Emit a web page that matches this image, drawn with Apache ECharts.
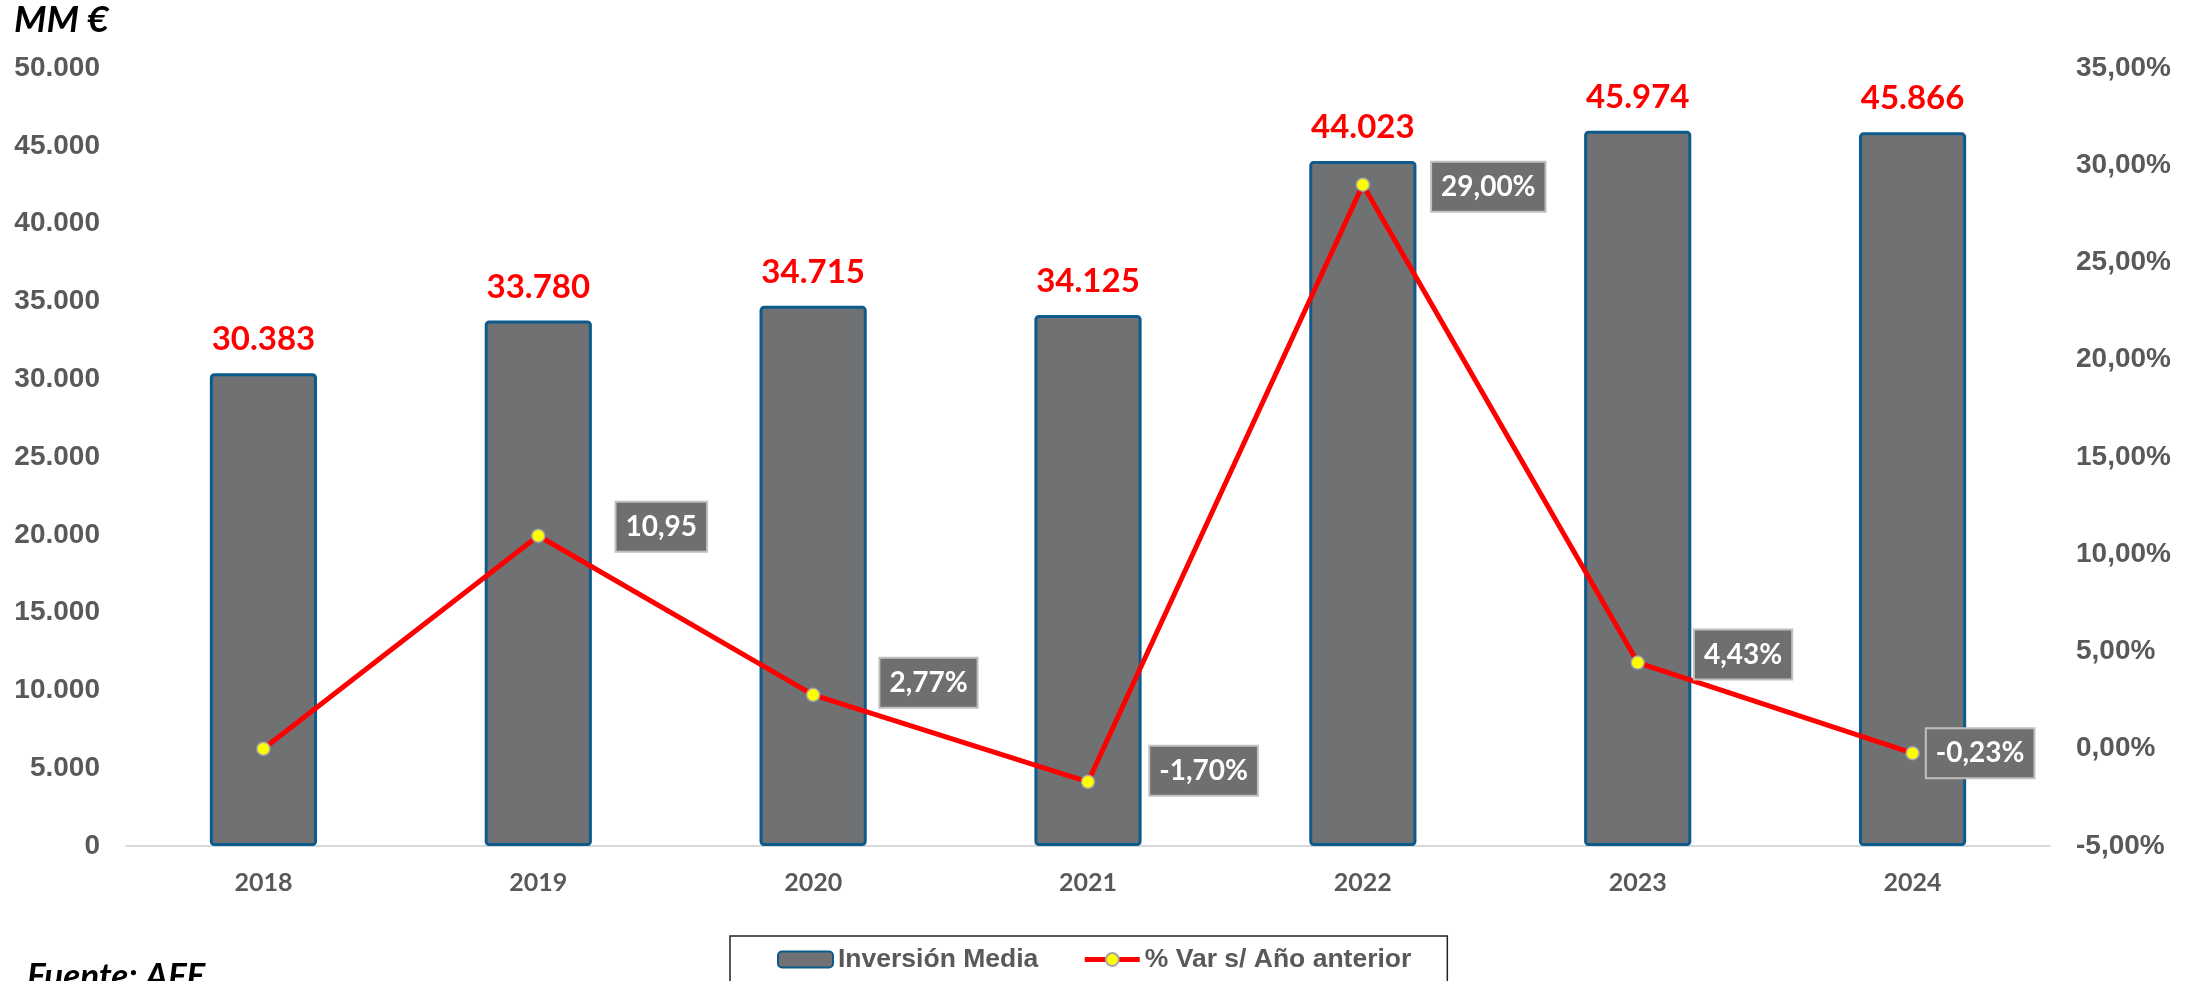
<!DOCTYPE html>
<html>
<head>
<meta charset="utf-8">
<script src="https://cdn.jsdelivr.net/npm/echarts@6/dist/echarts.min.js"></script>
<style>
  html, body { margin: 0; padding: 0; background: #fff; }
  #chart { width: 2196px; height: 981px; }
</style>
</head>
<body>
<div id="chart"></div>
<script>
// datos
var years = ['2018', '2019', '2020', '2021', '2022', '2023', '2024'];
var inversion = [30383, 33780, 34715, 34125, 44023, 45974, 45866];
var variacion = [0, 10.95, 2.77, -1.70, 29.00, 4.43, -0.23];
var varLabels = ['', '10,95', '2,77%', '-1,70%', '29,00%', '4,43%', '-0,23%'];

// posicion de las etiquetas de la linea (estilo)
var labelDist = [60, 71, 60, 55, 62, 50, 7];
var labelDy = [0, -9, -12, -11, 2, -8, 0];

function miles(v) {
  return String(v).replace(/\B(?=(\d{3})+(?!\d))/g, '.');
}

var chart = echarts.init(document.getElementById('chart'));

var lineData = variacion.map(function (v, i) {
  return {
    value: v,
    label: {
      show: varLabels[i] !== '',
      formatter: varLabels[i],
      distance: labelDist[i],
      offset: [0, labelDy[i]]
    }
  };
});

var option = {
  animation: false,
  textStyle: { fontFamily: 'Liberation Sans, Arial, sans-serif' },
  grid: { left: 126, right: 146, top: 68, bottom: 135 },
  legend: {
    left: 730,
    top: 936,
    padding: [10, 36, 30, 47],
    itemGap: 44,
    itemWidth: 55,
    itemHeight: 16,
    borderColor: '#222',
    borderWidth: 1.5,
    lineStyle: { width: 5 },
    textStyle: {
      fontFamily: 'Liberation Sans, Arial, sans-serif',
      fontWeight: 'bold',
      fontSize: 26.5,
      color: '#595959'
    },
    data: ['Inversión Media', '% Var s/ Año anterior']
  },
  xAxis: {
    type: 'category',
    data: years,
    axisLine: { lineStyle: { color: '#d9d9d9', width: 2 } },
    axisTick: { length: 9, lineStyle: { color: '#d9d9d9', width: 2 } },
    axisLabel: {
      margin: 24,
      fontFamily: 'Lato, sans-serif',
      fontWeight: 'bold',
      fontSize: 25,
      color: '#595959'
    }
  },
  yAxis: [{
    type: 'value',
    min: 0,
    max: 50000,
    interval: 5000,
    splitLine: { show: false },
    axisLine: { show: false },
    axisTick: { show: false },
    axisLabel: {
      margin: 26,
      fontWeight: 'bold',
      fontSize: 28,
      color: '#595959',
      formatter: function (v) { return miles(v); }
    }
  }, {
    type: 'value',
    min: -5,
    max: 35,
    interval: 5,
    splitLine: { show: false },
    axisLine: { show: false },
    axisTick: { show: false },
    axisLabel: {
      margin: 26,
      fontWeight: 'bold',
      fontSize: 28,
      color: '#595959',
      formatter: function (v) { return v.toFixed(2).replace('.', ',') + '%'; }
    }
  }],
  series: [{
    name: 'Inversión Media',
    type: 'bar',
    data: inversion,
    barWidth: '39%',
    itemStyle: {
      color: '#707173',
      borderColor: '#0d5b8c',
      borderWidth: 3,
      borderRadius: 3
    },
    label: {
      show: true,
      position: 'top',
      distance: 17,
      fontFamily: 'Lato, sans-serif',
      fontWeight: 'bold',
      fontSize: 33,
      color: '#ff0000',
      formatter: function (p) { return miles(p.value); }
    }
  }, {
    name: '% Var s/ Año anterior',
    type: 'line',
    yAxisIndex: 1,
    data: lineData,
    symbol: 'circle',
    symbolSize: 13,
    lineStyle: { color: '#ff0000', width: 5 },
    itemStyle: { color: '#ffff00', borderColor: '#a6a6a6', borderWidth: 1.5 },
    label: {
      position: 'right',
      fontFamily: 'Lato, sans-serif',
      fontWeight: 'bold',
      fontSize: 28,
      color: '#fff',
      backgroundColor: '#6f6f6f',
      borderColor: '#c0c0c0',
      borderWidth: 2,
      padding: [10, 9, 10, 9]
    },
    z: 5
  }],
  graphic: [{
    type: 'text',
    left: 14,
    top: 2,
    style: {
      text: 'MM €',
      fontFamily: 'Lato, sans-serif',
      fontWeight: 'bold',
      fontStyle: 'italic',
      fontSize: 37,
      fill: '#000'
    }
  }, {
    type: 'text',
    left: 27,
    top: 959,
    style: {
      text: 'Fuente: AFE',
      fontFamily: 'Lato, sans-serif',
      fontWeight: 'bold',
      fontStyle: 'italic',
      fontSize: 35,
      fill: '#000'
    }
  }]
};

chart.setOption(option);
</script>
</body>
</html>
